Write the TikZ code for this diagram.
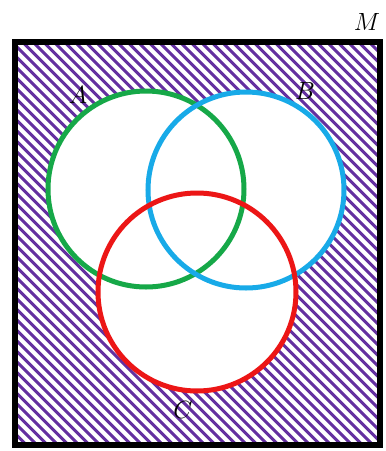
\documentclass[tikz,border=0pt]{standalone}
\definecolor{hatchpurple}{RGB}{100,48,160}
\definecolor{setgreen}{RGB}{22,168,72}
\definecolor{setblue}{RGB}{24,170,232}
\definecolor{setred}{RGB}{236,22,22}

\begin{document}
\begin{tikzpicture}[
  x=1pt, y=-1pt,
  hatch/.style={draw=hatchpurple, line width=3pt},
  setring/.style={circle, minimum size=196pt, inner sep=0pt, line width=5pt},
  setlabel/.style={font=\fontsize{30}{32}\selectfont},
]
\useasboundingbox (0,0) rectangle (386,451);

% ---- hatched universe ----
\begin{scope}
  \clip (15,41.5) rectangle (380,445);
  \foreach \k in {-450,-439.5,...,400}
    \draw[hatch] (\k,0) -- ++(500,500);
\end{scope}

% ---- blank set interiors ----
\fill[white] (146,189) circle (98) (246,190) circle (98) (197,292) circle (99);

% ---- universe frame ----
\node[draw=black, line width=6pt, minimum width=365pt, minimum height=403.5pt,
      inner sep=0pt] (M) at (197.5,243.25) {};

% ---- sets ----
\node[setring, draw=setgreen] (A) at (146,189) {};
\node[setring, draw=setblue]  (B) at (246,190) {};
\node[setring, draw=setred, minimum size=198pt] (C) at (197,292) {};

% ---- labels ----
\node[setlabel] (labA) at (78,95)  {$A$};
\node[setlabel] (labB) at (305,91) {$B$};
\node[setlabel] (labC) at (183,410) {$C$};
\node[setlabel] (labM) at (367,22) {$M$};
\end{tikzpicture}
\end{document}
